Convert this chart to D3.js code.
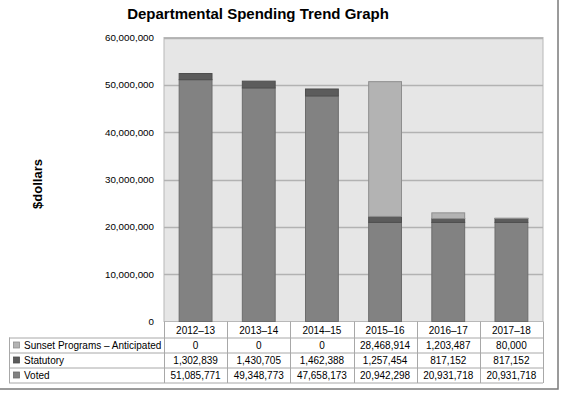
<!DOCTYPE html>
<html>
<head>
<meta charset="utf-8">
<script src="https://cdn.jsdelivr.net/npm/d3@7"></script>
<style>
  body { margin: 0; background: #fff; }
  text { font-family: "Liberation Sans", Arial, sans-serif; fill: #000; }
</style>
</head>
<body>
<svg></svg>
<script>
var years = ["2012\u201313", "2013\u201314", "2014\u201315", "2015\u201316", "2016\u201317", "2017\u201318"];
var voted = [51085771, 49348773, 47658173, 20942298, 20931718, 20931718];
var statutory = [1302839, 1430705, 1462388, 1257454, 817152, 817152];
var sunset = [0, 0, 0, 28468914, 1203487, 80000];
var seriesNames = ["Sunset Programs \u2013 Anticipated", "Statutory", "Voted"];
var yTicks = [0, 10000000, 20000000, 30000000, 40000000, 50000000, 60000000];

var w = 573, h = 399;
var plotLeft = 164, plotRight = 543, plotTop = 37.5, plotBottom = 321.5;
var rowH = 15;

var colors = {
  "Voted": "#828282",
  "Statutory": "#5c5c5c",
  "Sunset Programs \u2013 Anticipated": "#b3b3b3"
};
var strokes = {
  "Voted": "#6c6c6c",
  "Statutory": "#4e4e4e",
  "Sunset Programs \u2013 Anticipated": "#8e8e8e"
};

var vis = d3.select("svg").attr("width", w).attr("height", h);

// outer frame (only right and bottom edges fall inside the picture)
vis.append("rect")
    .attr("x", -2).attr("y", -2)
    .attr("width", 560).attr("height", 391)
    .attr("fill", "none")
    .attr("stroke", "#7a7a7a")
    .attr("stroke-width", 1.5);

var x = d3.scaleBand().domain(years).range([plotLeft, plotRight]).paddingInner(0.48).paddingOuter(0.24);
var band = d3.scaleBand().domain(years).range([plotLeft, plotRight]);
var y = d3.scaleLinear().domain([0, 60000000]).range([plotBottom, plotTop]);

// plot background
vis.append("rect")
    .attr("x", plotLeft).attr("y", plotTop)
    .attr("width", plotRight - plotLeft).attr("height", plotBottom - plotTop)
    .attr("fill", "#e6e6e6")
    .attr("stroke", "#b8b8b8");

// grid lines
vis.append("g")
    .selectAll("line")
    .data(yTicks.slice(1))
    .enter().append("line")
    .attr("x1", plotLeft).attr("x2", plotRight)
    .attr("y1", function(d) { return Math.round(y(d)) + 0.5; })
    .attr("y2", function(d) { return Math.round(y(d)) + 0.5; })
    .attr("stroke", "#b2b2b2")
    .attr("stroke-width", 1.3);

// y axis labels
var yAxis = d3.axisLeft(y).tickValues(yTicks).tickSize(0).tickPadding(10)
    .tickFormat(function(d) { return d === 0 ? "0" : d3.format(",")(d); });
var ya = vis.append("g").attr("transform", "translate(" + plotLeft + ",0)").call(yAxis);
ya.select(".domain").remove();
ya.selectAll("text")
    .style("font-family", "'Liberation Sans', Arial, sans-serif")
    .style("font-size", "9.8px")
    .attr("fill", "#000");

// stacked bars
var rows = years.map(function(yr, i) {
  return { year: yr, "Voted": voted[i], "Statutory": statutory[i], "Sunset Programs \u2013 Anticipated": sunset[i] };
});
var stack = d3.stack().keys(["Voted", "Statutory", "Sunset Programs \u2013 Anticipated"]);
var layers = stack(rows);

vis.append("g")
    .selectAll("g")
    .data(layers)
    .enter().append("g")
    .attr("fill", function(d) { return colors[d.key]; })
    .attr("stroke", function(d) { return strokes[d.key]; })
    .selectAll("rect")
    .data(function(d) { return d.filter(function(p) { return p[1] > p[0]; }); })
    .enter().append("rect")
    .attr("x", function(d) { return x(d.data.year); })
    .attr("width", x.bandwidth())
    .attr("y", function(d) { return y(d[1]); })
    .attr("height", function(d) { return y(d[0]) - y(d[1]); });

// data table
var tableTop = plotBottom + 1;
var tableLeft = 9;
var tbl = vis.append("g").attr("class", "table");
var lineColor = "#a8a8a8";
var fs = "10px";

// header row
tbl.selectAll(".hdr")
    .data(years)
    .enter().append("text")
    .attr("x", function(d) { return band(d) + band.bandwidth() / 2; })
    .attr("y", tableTop + rowH / 2 + 4)
    .attr("text-anchor", "middle")
    .style("font-size", fs)
    .text(function(d) { return d; });

var seriesData = [sunset, statutory, voted];

seriesNames.forEach(function(name, r) {
  var ry = tableTop + rowH * (r + 1);
  tbl.append("rect")
      .attr("x", tableLeft + 4.5).attr("y", ry + 4.5)
      .attr("width", 6).attr("height", 6)
      .attr("fill", colors[name])
      .attr("stroke", strokes[name])
      .attr("stroke-width", 0.8);
  tbl.append("text")
      .attr("x", tableLeft + 15)
      .attr("y", ry + rowH / 2 + 4)
      .style("font-size", fs)
      .text(name);
  tbl.selectAll(".v" + r)
      .data(seriesData[r])
      .enter().append("text")
      .attr("x", function(d, i) { return band(years[i]) + band.bandwidth() / 2; })
      .attr("y", ry + rowH / 2 + 4)
      .attr("text-anchor", "middle")
      .style("font-size", fs)
      .text(function(d) { return d3.format(",")(d); });
});

// table lines
var tableBottom = tableTop + rowH * 4;
for (var r = 1; r <= 4; r++) {
  tbl.append("line")
      .attr("x1", tableLeft).attr("x2", plotRight)
      .attr("y1", tableTop + rowH * r + 0.5).attr("y2", tableTop + rowH * r + 0.5)
      .attr("stroke", lineColor);
}
tbl.append("line")
    .attr("x1", tableLeft + 0.5).attr("x2", tableLeft + 0.5)
    .attr("y1", tableTop + rowH).attr("y2", tableBottom + 0.5)
    .attr("stroke", lineColor);
years.forEach(function(yr) {
  tbl.append("line")
      .attr("x1", Math.round(band(yr)) + 0.5).attr("x2", Math.round(band(yr)) + 0.5)
      .attr("y1", tableTop - 1).attr("y2", tableBottom + 0.5)
      .attr("stroke", lineColor);
});
tbl.append("line")
    .attr("x1", plotRight + 0.5).attr("x2", plotRight + 0.5)
    .attr("y1", tableTop - 1).attr("y2", tableBottom + 0.5)
    .attr("stroke", lineColor);

// title
vis.append("text")
    .attr("x", 258).attr("y", 18.5)
    .attr("text-anchor", "middle")
    .style("font-size", "15px")
    .style("font-weight", "bold")
    .text("Departmental Spending Trend Graph");

// y axis title
vis.append("text")
    .attr("transform", "translate(42,184) rotate(-90)")
    .attr("text-anchor", "middle")
    .style("font-size", "13px")
    .style("font-weight", "bold")
    .text("$dollars");
</script>
</body>
</html>
